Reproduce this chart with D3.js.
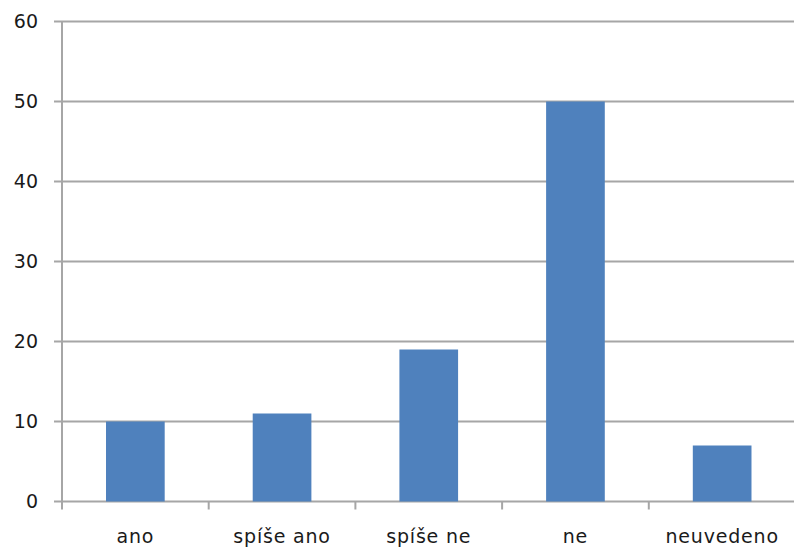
<!DOCTYPE html>
<html>
<head>
<meta charset="utf-8">
<script src="https://cdn.jsdelivr.net/npm/d3@7"></script>
<style>
  body { margin: 0; background: #fff; }
  text { font-family: "DejaVu Sans", Verdana, sans-serif; fill: #1a1a1a; }
</style>
</head>
<body>
<svg id="chart" width="794" height="549"></svg>
<script>
const categories = ["ano", "spíše ano", "spíše ne", "ne", "neuvedeno"];
const values = [10, 11, 19, 50, 7];
const yTicks = [0, 10, 20, 30, 40, 50, 60];

const svg = d3.select("#chart");
const plotLeft = 62, plotRight = 795.5, plotTop = 21.5, plotBottom = 501.5;

const x = d3.scaleBand().domain(categories).range([plotLeft, plotRight]).padding(0);
const y = d3.scaleLinear().domain([0, 60]).range([plotBottom, plotTop]);

// gridlines
svg.append("g")
  .selectAll("line")
  .data(yTicks)
  .join("line")
  .attr("x1", plotLeft - 8)
  .attr("x2", 794)
  .attr("y1", d => y(d))
  .attr("y2", d => y(d))
  .attr("stroke", "#a6a6a6")
  .attr("stroke-width", 2);

// y labels
svg.append("g")
  .selectAll("text")
  .data(yTicks)
  .join("text")
  .attr("x", 38)
  .attr("y", d => y(d))
  .attr("dy", "0.36em")
  .attr("text-anchor", "end")
  .style("font-size", "19px")
  .text(d => d);

// bars
const barW = x.bandwidth() * 0.4;
svg.append("g")
  .selectAll("rect")
  .data(values)
  .join("rect")
  .attr("x", (d, i) => x(categories[i]) + (x.bandwidth() - barW) / 2)
  .attr("y", d => y(d))
  .attr("width", barW)
  .attr("height", d => y(0) - y(d))
  .attr("fill", "#4f81bd");

// y axis line
svg.append("line")
  .attr("x1", plotLeft).attr("x2", plotLeft)
  .attr("y1", plotTop).attr("y2", plotBottom + 8)
  .attr("stroke", "#a6a6a6")
  .attr("stroke-width", 2);

// x tick marks at band boundaries
svg.append("g")
  .selectAll("line")
  .data(categories.slice(1))
  .join("line")
  .attr("x1", d => x(d))
  .attr("x2", d => x(d))
  .attr("y1", plotBottom)
  .attr("y2", plotBottom + 8)
  .attr("stroke", "#a6a6a6")
  .attr("stroke-width", 2);

// x labels
svg.append("g")
  .selectAll("text")
  .data(categories)
  .join("text")
  .attr("x", d => x(d) + x.bandwidth() / 2)
  .attr("y", 543)
  .attr("text-anchor", "middle")
  .style("font-size", "19px")
  .style("letter-spacing", "0.8px")
  .text(d => d);
</script>
</body>
</html>
